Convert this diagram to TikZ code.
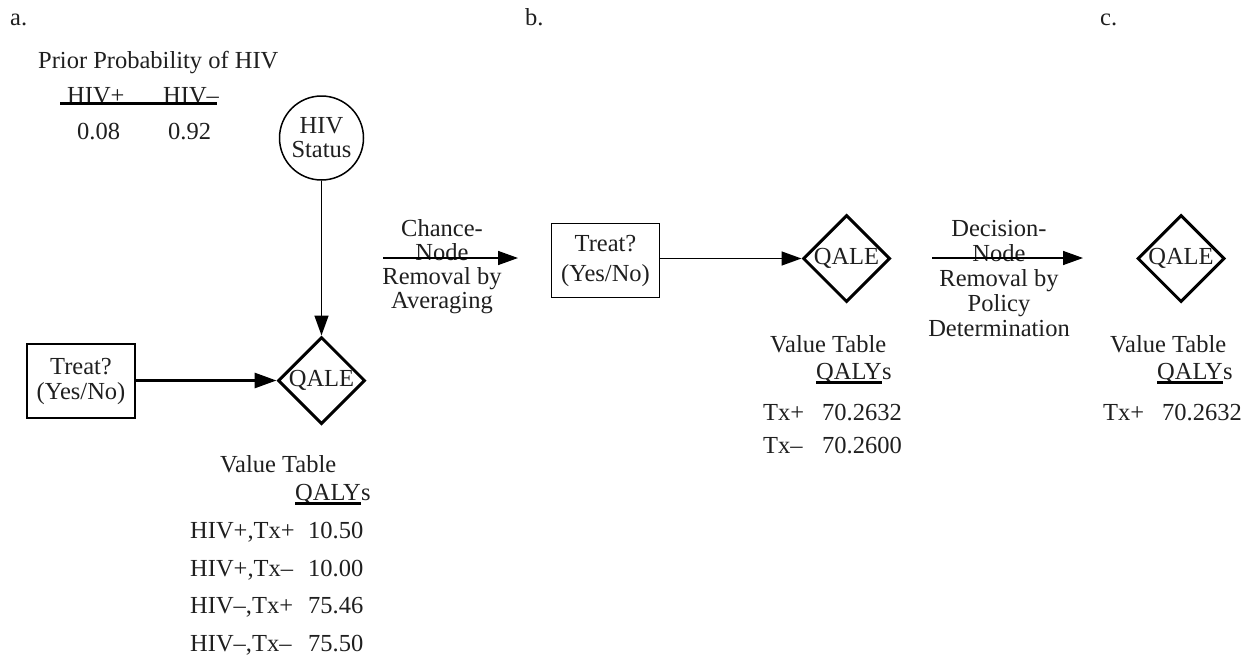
\documentclass[tikz,border=0pt]{standalone}
\usepackage{fontspec}
\setmainfont{Liberation Serif}
\usetikzlibrary{arrows.meta,shapes.geometric}
\begin{document}
\begin{tikzpicture}[x=1pt,y=-1pt,
  every node/.style={font=\fontsize{24.5}{24}\selectfont, inner sep=0pt, text=black!88},
  txt/.style={anchor=base west},
  ctxt/.style={align=center},
  qale/.style={draw, diamond, line width=3pt, minimum width=87pt, minimum height=87pt, inner sep=0pt},
  choice/.style={draw, rectangle, line width=1.5pt, minimum width=108pt, minimum height=74pt, align=center},
  chance/.style={draw, circle, line width=1.5pt, minimum size=84pt, align=center},
  arr/.style={-{Triangle[length=20pt,width=14pt]}, line width=1.5pt},
  thickarr/.style={-{Triangle[length=22pt,width=15pt]}, line width=3pt},
  ul/.style={line width=3pt},
]
\useasboundingbox (0,0) rectangle (1251,659);

% panel labels
\node[txt] (la) at (10,25) {a.};
\node[txt] (lb) at (525,25) {b.};
\node[txt] (lc) at (1100,25) {c.};

% prior probability table
\node[txt] (prior) at (38,68) {Prior Probability of HIV};
\node[txt] (hp) at (67,103) {HIV+};
\node[txt] (hm) at (163,103) {HIV–};
\draw[ul] (60,103) -- (217,103);
\node[txt] (p1) at (77,139) {0.08};
\node[txt] (p2) at (168,139) {0.92};

% panel a nodes
\node[chance] (hiv) at (321.5,138) {HIV\\Status};
\node[qale] (qa) at (321.5,380.5) {QALE};
\node[choice, font=\fontsize{24.5}{25}\selectfont] (ta) at (81,381) {Treat?\\(Yes/No)};
\draw[arr] (hiv.south) -- (qa.north);
\draw[thickarr] (ta.east |- qa) -- (qa.west);

% value table a
\node[txt] (vta) at (220,472) {Value Table};
\node[txt] (qya) at (295,500) {QALY};
\node[txt] (qysa) at (qya.base east) {s};
\draw[ul] ([yshift=-3pt]qya.base west) -- ([yshift=-3pt]qya.base east);
\node[txt] (r1) at (190,538) {HIV+,Tx+};
\node[txt] (v1) at (308,538) {10.50};
\node[txt] (r2) at (190,576) {HIV+,Tx–};
\node[txt] (v2) at (308,576) {10.00};
\node[txt] (r3) at (190,613) {HIV–,Tx+};
\node[txt] (v3) at (308,613) {75.46};
\node[txt] (r4) at (190,651) {HIV–,Tx–};
\node[txt] (v4) at (308,651) {75.50};

% chance node removal arrow
\coordinate (c1) at (383,258);
\coordinate (c2) at (518,258);
\node[ctxt] (ctext) at (442,267) {Chance-\\Node\\Removal by\\Averaging};
\draw[arr] (c1) -- (c2);

% panel b
\node[choice, font=\fontsize{24.5}{30}\selectfont] (tb) at (605.5,260.5) {Treat?\\(Yes/No)};
\node[qale] (qb) at (846.5,258.5) {QALE};
\draw[arr] (tb.east |- qb) -- (qb.west);
\node[txt] (vtb) at (770,352) {Value Table};
\node[txt] (qyb) at (816,379) {QALY};
\node[txt] (qysb) at (qyb.base east) {s};
\draw[ul] ([yshift=-3pt]qyb.base west) -- ([yshift=-3pt]qyb.base east);
\node[txt] (b1) at (763,420) {Tx+};
\node[txt] (bv1) at (822,420) {70.2632};
\node[txt] (b2) at (763,453) {Tx–};
\node[txt] (bv2) at (822,453) {70.2600};

% decision node removal arrow
\coordinate (d1) at (932,258);
\coordinate (d2) at (1083,258);
\node[ctxt, font=\fontsize{24.5}{25}\selectfont] (dtext) at (999,278.5) {Decision-\\Node\\Removal by\\Policy\\Determination};
\draw[arr] (d1) -- (d2);

% panel c
\node[qale] (qc) at (1181,258.5) {QALE};
\node[txt] (vtc) at (1110,352) {Value Table};
\node[txt] (qyc) at (1157,379) {QALY};
\node[txt] (qysc) at (qyc.base east) {s};
\draw[ul] ([yshift=-3pt]qyc.base west) -- ([yshift=-3pt]qyc.base east);
\node[txt] (c1t) at (1103,420) {Tx+};
\node[txt] (c1v) at (1162,420) {70.2632};
\end{tikzpicture}
\end{document}
